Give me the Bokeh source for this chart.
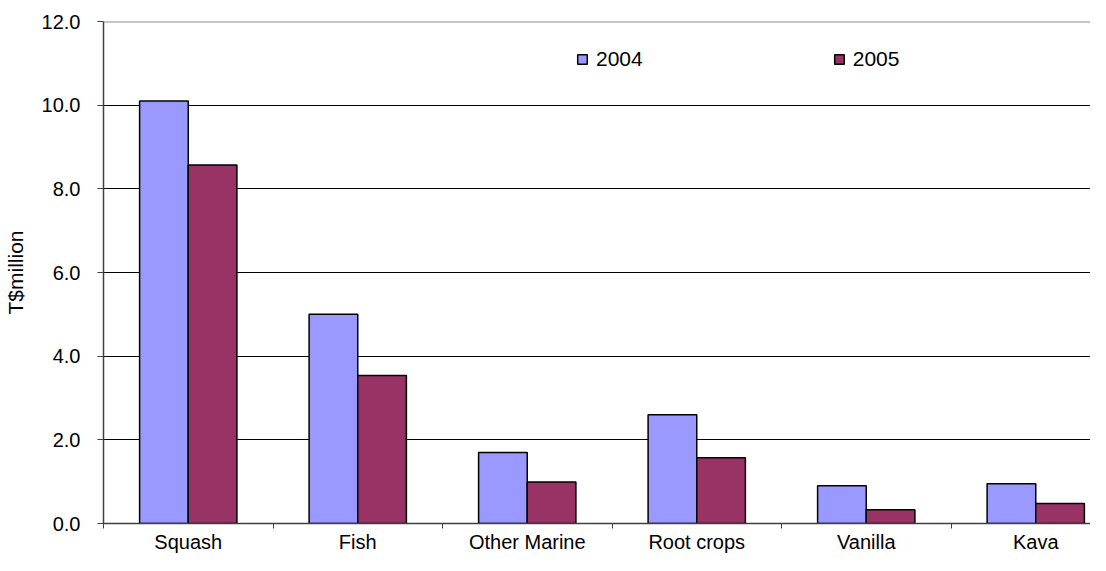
from bokeh.plotting import figure
from bokeh.models import (ColumnDataSource, Range1d, FixedTicker, NumeralTickFormatter,
                          Span, Legend, LegendItem)
from bokeh.embed import file_html
from bokeh.resources import INLINE

categories = ["Squash", "Fish", "Other Marine", "Root crops", "Vanilla", "Kava"]
values_2004 = [10.1, 5.0, 1.7, 2.6, 0.9, 0.95]
values_2005 = [8.57, 3.54, 0.99, 1.57, 0.33, 0.48]
series_names = ["2004", "2005"]
y_ticks = [0, 2, 4, 6, 8, 10, 12]

FONT = "Liberation Sans"
C2004 = "#9999FF"
C2005 = "#993366"

centers = [i + 0.5 for i in range(len(categories))]
bw = 0.287
src = ColumnDataSource(dict(
    x04=[c - bw / 2 for c in centers],
    x05=[c + bw / 2 for c in centers],
    v04=values_2004,
    v05=values_2005,
))

p = figure(width=1090, height=555, output_backend="svg", toolbar_location=None,
           x_range=Range1d(0, 5.823), y_range=Range1d(0, 12),
           min_border_left=103, min_border_top=21, min_border_bottom=25, min_border_right=0)
p.outline_line_color = None
p.background_fill_color = "white"
p.border_fill_color = "white"

r1 = p.vbar(x="x04", top="v04", width=bw, source=src, fill_color=C2004,
            line_color="black", line_width=1.5)
r2 = p.vbar(x="x05", top="v05", width=bw, source=src, fill_color=C2005,
            line_color="black", line_width=1.5)

# grid
p.xgrid.visible = False
p.ygrid.ticker = FixedTicker(ticks=y_ticks[1:-1])
p.ygrid.grid_line_color = "black"
p.ygrid.grid_line_width = 1
p.ygrid.level = "underlay"
top_line = Span(location=12, dimension="width", line_color="#8c8c8c", line_width=2)
p.add_layout(top_line)

# y axis
ya = p.yaxis[0]
ya.ticker = FixedTicker(ticks=y_ticks)
ya.formatter = NumeralTickFormatter(format="0.0")
ya.axis_line_color = "#404040"
ya.axis_line_width = 1.5
ya.major_tick_line_color = "#404040"
ya.major_tick_out = 6
ya.major_tick_in = 0
ya.minor_tick_line_color = None
ya.major_label_standoff = 17
ya.major_label_text_font = FONT
ya.major_label_text_font_size = "20px"
ya.major_label_text_color = "black"
ya.axis_label = "T$million"
ya.axis_label_text_font = FONT
ya.axis_label_text_font_size = "21px"
ya.axis_label_text_font_style = "normal"
ya.axis_label_text_color = "black"
ya.axis_label_standoff = 12

# x axis
xa = p.xaxis[0]
xa.ticker = FixedTicker(ticks=centers, minor_ticks=list(range(len(categories) + 1)))
xa.major_label_overrides = {c: name for c, name in zip(centers, categories)}
xa.axis_line_color = "#404040"
xa.axis_line_width = 1.5
xa.major_tick_line_color = None
xa.major_tick_out = 0
xa.major_tick_in = 0
xa.minor_tick_line_color = "#404040"
xa.minor_tick_out = 5
xa.minor_tick_in = 0
xa.major_label_standoff = 2
xa.major_label_text_font = FONT
xa.major_label_text_font_size = "20px"
xa.major_label_text_color = "black"

legend = Legend(items=[LegendItem(label=series_names[0], renderers=[r1]),
                       LegendItem(label=series_names[1], renderers=[r2])],
                orientation="horizontal", location=(473, 452),
                glyph_width=12, glyph_height=12, label_standoff=8, spacing=190,
                padding=0, margin=0, border_line_color=None,
                background_fill_alpha=0, label_text_font=FONT,
                label_text_font_size="21px", label_text_color="black")
p.add_layout(legend, "center")

open("out.html", "w").write(file_html(p, INLINE))
